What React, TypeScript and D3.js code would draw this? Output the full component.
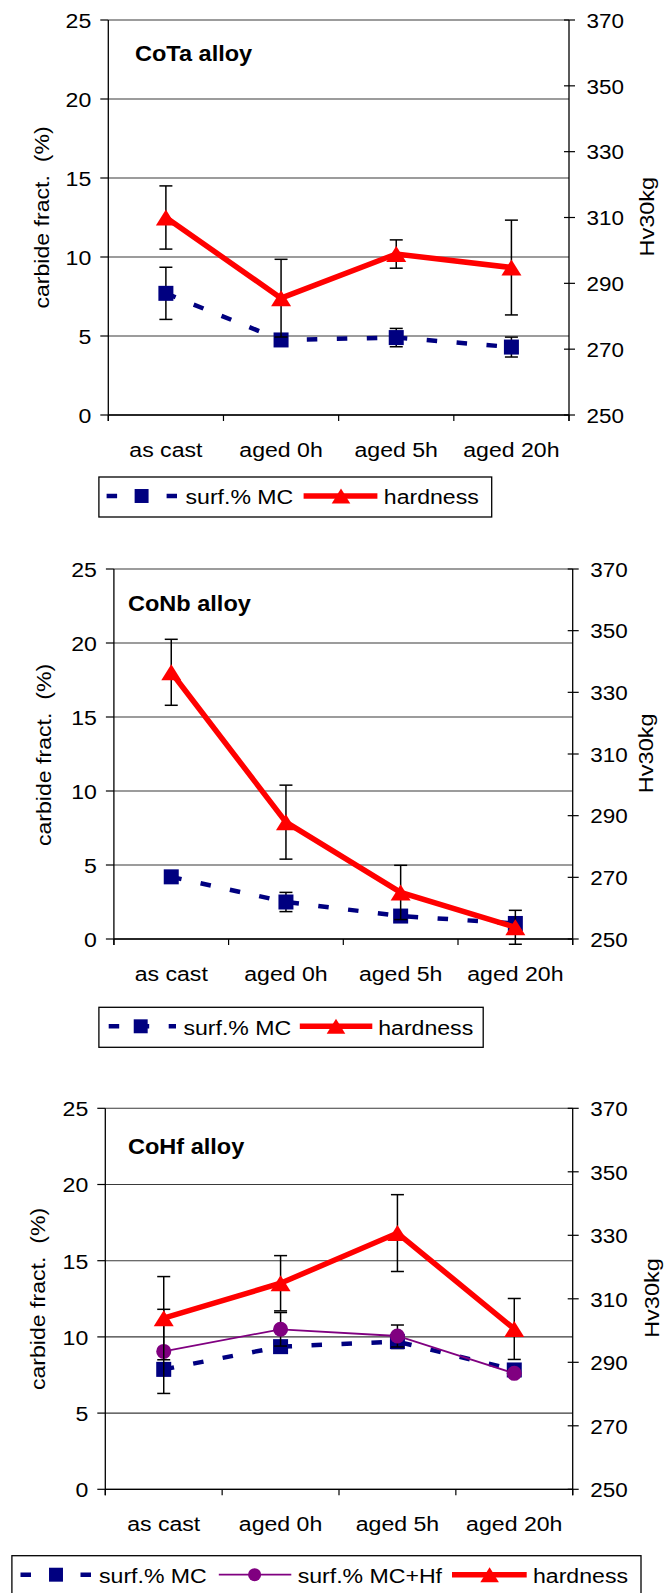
import React from "react";
import * as d3 from "d3";

const categories = ["as cast", "aged 0h", "aged 5h", "aged 20h"];
const leftTicks = [0, 5, 10, 15, 20, 25];
const rightTicks = [250, 270, 290, 310, 330, 350, 370];

// CoTa alloy
const cotaMC = [7.7, 4.75, 4.9, 4.3];
const cotaMCErr = [1.65, 0.3, 0.58, 0.63];
const cotaHard = [310, 285.5, 298.9, 294.8];
const cotaHardErr = [9.6, 11.8, 4.3, 14.4];

// CoNb alloy
const conbMC = [4.2, 2.5, 1.55, 1.05];
const conbMCErr = [0.15, 0.65, 0.3, 0.2];
const conbHard = [336.5, 287.9, 265.1, 253.8];
const conbHardErr = [10.7, 12, 8.8, 5.5];

// CoHf alloy
const cohfMC = [7.87, 9.36, 9.69, 7.83];
const cohfMCErr = [0.4, 0.3, 0.45, 0.3];
const cohfMCHf = [9.05, 10.5, 10.06, 7.61];
const cohfMCHfErr = [2.76, 1.1, 0.72, 0.2];
const cohfHard = [303.9, 314.9, 330.7, 300.5];
const cohfHardErr = [13.1, 8.7, 12.1, 9.6];

const FONT = "'Liberation Sans', Arial, Helvetica, sans-serif";
const SX = 1.1;
const NAVY = "#000080";
const PURPLE = "#800080";
const RED = "#FF0000";

type TProps = {
  x: number; y: number; size?: number; anchor?: string; bold?: boolean;
  rotate?: boolean; sx?: number; children: React.ReactNode;
};
function T({ x, y, size = 21, anchor = "start", bold = false, rotate = false, sx = SX, children }: TProps) {
  const tf = rotate
    ? `translate(${x},${y}) rotate(-90) scale(${sx},1)`
    : `translate(${x},${y}) scale(${sx},1)`;
  return (
    <text transform={tf} fontSize={size} textAnchor={anchor as any} fontWeight={bold ? "bold" : "normal"}
      fontFamily={FONT} fill="#000" style={{ whiteSpace: "pre" }}>
      {children}
    </text>
  );
}

type Kind = "square" | "circle" | "triangle";
function Marker({ kind, x, y, color, s = 1 }: { kind: Kind; x: number; y: number; color: string; s?: number }) {
  if (kind === "square") {
    const h = 7.5 * s;
    return <rect x={x - h} y={y - h} width={2 * h} height={2 * h} fill={color} />;
  }
  if (kind === "circle") return <circle cx={x} cy={y} r={7.5 * s} fill={color} />;
  const w = 10 * s, h = 8 * s;
  return <path d={`M${x},${y - h}L${x + w},${y + h}L${x - w},${y + h}Z`} fill={color} />;
}

type Series = {
  name: string; values: number[]; err: number[]; axis: "left" | "right";
  color: string; width: number; dash?: string; marker: Kind;
};

type PanelCfg = {
  title: string; L: number; R: number; top: number; bottom: number;
  titleX: number; titleY: number; ylabX: number; ylabY: number; hvX: number; hvY: number;
  legend: { x0: number; x1: number; y0: number; items: { x0: number; x1: number; mx: number; tx: number }[] };
  series: Series[];
};

function Panel({ cfg }: { cfg: PanelCfg }) {
  const { L, R, top, bottom } = cfg;
  const x = d3.scaleBand<string>().domain(categories).range([L, R]).padding(0);
  const yL = d3.scaleLinear().domain([0, 25]).range([bottom, top]);
  const yR = d3.scaleLinear().domain([250, 370]).range([bottom, top]);
  const cx = (c: string) => (x(c) as number) + x.bandwidth() / 2;
  const bounds = d3.range(5).map((i) => L + i * x.bandwidth());
  const ly = cfg.legend.y0 + 19;

  return (
    <g>
      {/* gridlines */}
      {leftTicks.map((t) => (
        <line key={"g" + t} x1={L} x2={R} y1={yL(t)} y2={yL(t)} stroke="#3a3a3a" strokeWidth={1.1} />
      ))}
      {/* left axis */}
      <line x1={L} x2={L} y1={top} y2={bottom + 6} stroke="#000" strokeWidth={1.3} />
      {leftTicks.map((t) => (
        <g key={"lt" + t}>
          <line x1={L - 8} x2={L} y1={yL(t)} y2={yL(t)} stroke="#000" strokeWidth={1.2} />
          <T x={L - 17} y={yL(t) + 7.8} anchor="end">{String(t)}</T>
        </g>
      ))}
      {/* right axis */}
      <line x1={R} x2={R} y1={top} y2={bottom + 6} stroke="#000" strokeWidth={1.3} />
      {rightTicks.map((t) => (
        <g key={"rt" + t}>
          <line x1={R - 5} x2={R + 6} y1={yR(t)} y2={yR(t)} stroke="#000" strokeWidth={1.2} />
          <T x={R + 17.5} y={yR(t) + 7.8} anchor="start" sx={1.07}>{String(t)}</T>
        </g>
      ))}
      {/* x axis */}
      <line x1={L} x2={R} y1={bottom} y2={bottom} stroke="#000" strokeWidth={1.3} />
      {bounds.map((b, i) => (
        <line key={"xt" + i} x1={b} x2={b} y1={bottom} y2={bottom + 6} stroke="#000" strokeWidth={1.2} />
      ))}
      {categories.map((c) => (
        <T key={"xl" + c} x={cx(c)} y={bottom + 42} anchor="middle">{c}</T>
      ))}
      {/* axis titles */}
      <T x={cfg.ylabX} y={cfg.ylabY} anchor="middle" rotate sx={1.1}>{"carbide fract.  (%)"}</T>
      <T x={cfg.hvX} y={cfg.hvY} anchor="middle" rotate sx={1.12}>Hv30kg</T>
      <T x={cfg.titleX} y={cfg.titleY} size={22} bold sx={1.07}>{cfg.title}</T>

      {/* series */}
      {cfg.series.map((s) => {
        const yS = s.axis === "left" ? yL : yR;
        const pts: [number, number][] = categories.map((c, i) => [cx(c), yS(s.values[i])]);
        const line = d3.line()(pts) as string;
        return (
          <g key={s.name}>
            <path d={line} fill="none" stroke={s.color} strokeWidth={s.width} strokeDasharray={s.dash}
              strokeLinejoin="miter" />
            {categories.map((c, i) => {
              const xx = cx(c);
              const y1 = yS(s.values[i] + s.err[i]);
              const y2 = yS(s.values[i] - s.err[i]);
              return (
                <g key={"e" + i} stroke="#000" strokeWidth={1.5}>
                  <line x1={xx} x2={xx} y1={y1} y2={y2} />
                  <line x1={xx - 6.5} x2={xx + 6.5} y1={y1} y2={y1} />
                  <line x1={xx - 6.5} x2={xx + 6.5} y1={y2} y2={y2} />
                </g>
              );
            })}
            {categories.map((c, i) => (
              <Marker key={"m" + i} kind={s.marker} x={cx(c)} y={yS(s.values[i])} color={s.color} />
            ))}
          </g>
        );
      })}

      {/* legend */}
      <rect x={cfg.legend.x0} y={cfg.legend.y0} width={cfg.legend.x1 - cfg.legend.x0} height={40}
        fill="#fff" stroke="#000" strokeWidth={1.3} />
      {cfg.series.map((s, i) => {
        const it = cfg.legend.items[i];
        return (
          <g key={"lg" + s.name}>
            <line x1={it.x0} x2={it.x1} y1={ly} y2={ly} stroke={s.color} strokeWidth={s.width}
              strokeDasharray={s.dash} />
            <Marker kind={s.marker} x={it.mx} y={ly} color={s.color} s={s.marker === "circle" ? 0.87 : 0.93} />
            <T x={it.tx} y={ly + 8.3}>{s.name}</T>
          </g>
        );
      })}
    </g>
  );
}

const mcStyle = { color: NAVY, width: 4.5, dash: "10.5 19.5", marker: "square" as Kind, axis: "left" as const };
const hardStyle = { color: RED, width: 5.5, marker: "triangle" as Kind, axis: "right" as const };
const hfStyle = { color: PURPLE, width: 1.8, marker: "circle" as Kind, axis: "left" as const };

const panels: PanelCfg[] = [
  {
    title: "CoTa alloy", L: 108.3, R: 569, top: 20, bottom: 415,
    titleX: 135, titleY: 61, ylabX: 48.5, ylabY: 217.5, hvX: 654, hvY: 216.7,
    legend: {
      x0: 98.9, x1: 491.7, y0: 477,
      items: [
        { x0: 106.6, x1: 177, mx: 141.6, tx: 185.5 },
        { x0: 303.6, x1: 377.4, mx: 341, tx: 383.8 },
      ],
    },
    series: [
      { name: "surf.% MC", values: cotaMC, err: cotaMCErr, ...mcStyle },
      { name: "hardness", values: cotaHard, err: cotaHardErr, ...hardStyle },
    ],
  },
  {
    title: "CoNb alloy", L: 113.9, R: 572.7, top: 569, bottom: 939,
    titleX: 128, titleY: 610.7, ylabX: 51, ylabY: 755, hvX: 653, hvY: 753.3,
    legend: {
      x0: 98.9, x1: 483.2, y0: 1007.3,
      items: [
        { x0: 108.7, x1: 176, mx: 140.7, tx: 183.4 },
        { x0: 299.8, x1: 372.3, mx: 336, tx: 378.2 },
      ],
    },
    series: [
      { name: "surf.% MC", values: conbMC, err: conbMCErr, ...mcStyle },
      { name: "hardness", values: conbHard, err: conbHardErr, ...hardStyle },
    ],
  },
  {
    title: "CoHf alloy", L: 105.3, R: 572.7, top: 1108.3, bottom: 1489.3,
    titleX: 128, titleY: 1154, ylabX: 45, ylabY: 1299, hvX: 659, hvY: 1298,
    legend: {
      x0: 11.9, x1: 641, y0: 1555.7,
      items: [
        { x0: 20.5, x1: 91.7, mx: 56, tx: 99 },
        { x0: 218.8, x1: 291.3, mx: 254.6, tx: 297.7 },
        { x0: 452, x1: 526.7, mx: 489.6, tx: 533 },
      ],
    },
    series: [
      { name: "surf.% MC", values: cohfMC, err: cohfMCErr, ...mcStyle },
      { name: "surf.% MC+Hf", values: cohfMCHf, err: cohfMCHfErr, ...hfStyle },
      { name: "hardness", values: cohfHard, err: cohfHardErr, ...hardStyle },
    ],
  },
];

export default function App() {
  return (
    <svg width={667} height={1593} viewBox="0 0 667 1593"
      style={{ position: "absolute", left: 0, top: 0, background: "#fff", display: "block" }}>
      <rect x={0} y={0} width={667} height={1593} fill="#fff" />
      {panels.map((p) => (
        <Panel key={p.title} cfg={p} />
      ))}
    </svg>
  );
}
